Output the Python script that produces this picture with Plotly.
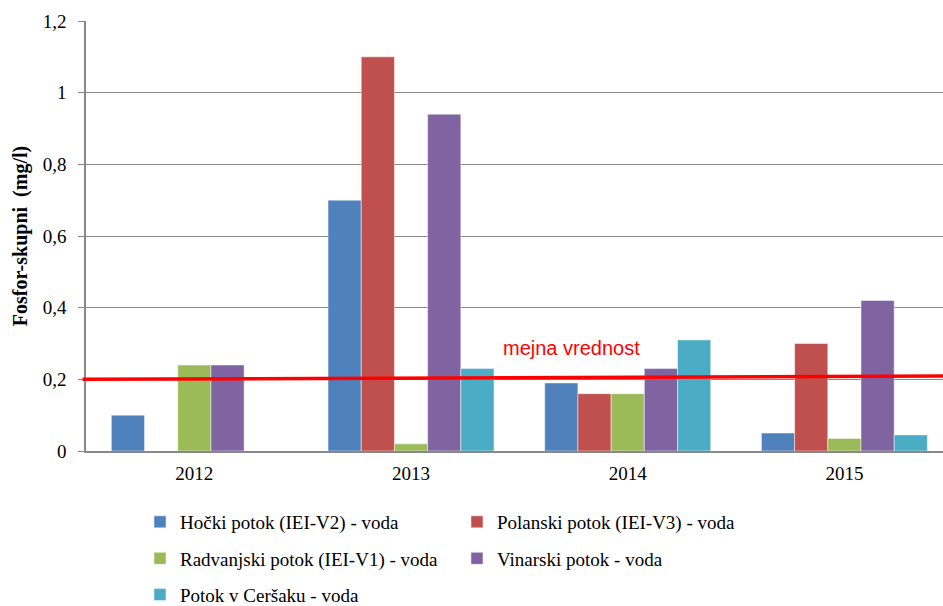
import plotly.graph_objects as go

years = ["2012", "2013", "2014", "2015"]
series_names = [
    "Hočki potok (IEI-V2) - voda",
    "Polanski potok (IEI-V3) - voda",
    "Radvanjski potok (IEI-V1) - voda",
    "Vinarski potok - voda",
    "Potok v Ceršaku - voda",
]
hocki = [0.10, 0.70, 0.19, 0.05]
polanski = [None, 1.10, 0.16, 0.30]
radvanjski = [0.24, 0.02, 0.16, 0.035]
vinarski = [0.24, 0.94, 0.23, 0.42]
potok_cersak = [None, 0.23, 0.31, 0.045]
limit_values = [0.2, 0.209]
limit_label = "mejna vrednost"
y_title = "Fosfor-skupni  (mg/l)"

colors = ["#4F81BD", "#C0504D", "#9BBB59", "#8064A2", "#4BACC6"]
all_series = [hocki, polanski, radvanjski, vinarski, potok_cersak]
legend_rows = ["legend", "legend", "legend2", "legend2", "legend3"]

fig = go.Figure()
for name, vals, col, lg in zip(series_names, all_series, colors, legend_rows):
    fig.add_trace(go.Bar(
        x=years, y=vals, name=name, legend=lg,
        marker=dict(color=col, line=dict(color="rgba(255,255,255,0.6)", width=0.8)),
    ))

serif = "Liberation Serif"
grid = "#888888"

fig.add_shape(type="line", xref="paper", yref="y",
              x0=-0.004, x1=1.0, y0=limit_values[0], y1=limit_values[1],
              line=dict(color="#FF0000", width=3.5), layer="above")
fig.add_annotation(text=limit_label, xref="paper", yref="y",
                   x=0.566, y=0.287, showarrow=False,
                   font=dict(family="Liberation Sans", size=20, color="#FF0000"))

leg_common = dict(orientation="h", x=0.063, xanchor="left", yanchor="middle",
                  entrywidth=272, entrywidthmode="pixels", itemwidth=30,
                  font=dict(family=serif, size=19, color="black"),
                  traceorder="normal", bgcolor="rgba(0,0,0,0)")

fig.update_layout(
    width=943, height=606,
    margin=dict(l=86, r=0, t=21, b=155, autoexpand=False),
    paper_bgcolor="white", plot_bgcolor="white",
    barmode="group", bargap=0.234, bargroupgap=0,
    separators=", ",
    font=dict(family=serif, size=18, color="black"),
    showlegend=True,
    legend=dict(y=-0.165, **leg_common),
    legend2=dict(y=-0.25, **leg_common),
    legend3=dict(y=-0.334, **leg_common),
    xaxis=dict(type="category", range=[-0.5, 3.455], showgrid=False,
               showline=True, linecolor=grid, linewidth=2, ticks="",
               tickfont=dict(family=serif, size=19), ticklabelstandoff=4),
    yaxis=dict(range=[0, 1.2], dtick=0.2, showgrid=True, gridcolor=grid, gridwidth=1.3,
               showline=True, linecolor=grid, linewidth=1.5, ticks="outside",
               ticklen=6, tickcolor=grid, tickwidth=1.3,
               tickfont=dict(family=serif, size=19), ticklabelstandoff=8,
               zeroline=False,
               title=dict(text="<b>" + y_title + "</b>", font=dict(family=serif, size=20), standoff=10)),
)

fig.write_html("out.html", config={"displayModeBar": False},
               post_script="document.body.style.margin='0';document.body.style.overflow='hidden';")
